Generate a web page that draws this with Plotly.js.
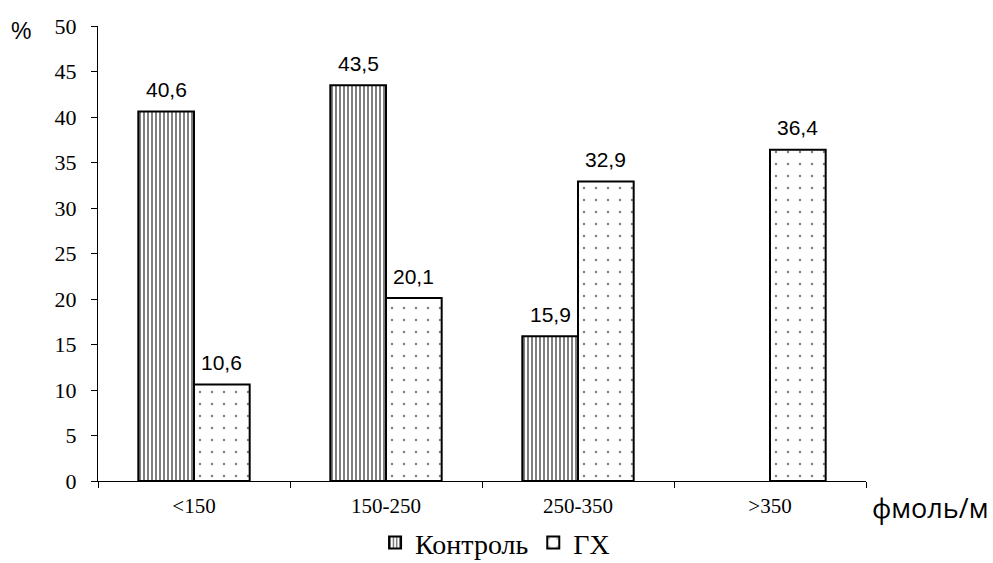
<!DOCTYPE html>
<html>
<head>
<meta charset="utf-8">
<script src="https://cdn.plot.ly/plotly-3.0.1.min.js"></script>
<style>html,body{margin:0;padding:0;background:#fff;}#chart{width:993px;height:563px;}</style>
</head>
<body>
<div id="chart"></div>
<script>
// Distribution of patients by level (fmol/m), percent
const categories = ['<150', '150-250', '250-350', '>350'];
const controlValues = [40.6, 43.5, 15.9, null];
const ghValues = [10.6, 20.1, 32.9, 36.4];
const yTicks = [0, 5, 10, 15, 20, 25, 30, 35, 40, 45, 50];
const seriesNames = ['Контроль', 'ГХ'];

const serif = '"Liberation Serif", "Times New Roman", serif';
const sans = '"Liberation Sans", Arial, sans-serif';
const fmt = v => v.toFixed(1).replace('.', ',');

const BARGAP = 0.42;
// horizontal offset (px) of each bar within its category group
const PLOT_W = 993 - 98 - 127;
const barPx = PLOT_W / categories.length * (1 - BARGAP) / 2;

const traces = [
  {
    type: 'bar', name: seriesNames[0], x: categories, y: controlValues,
    marker: {
      color: '#fff',
      line: {color: '#000', width: 2},
      pattern: {shape: '|', fgcolor: '#000', bgcolor: '#fff', size: 4, solidity: 0.5, fillmode: 'overlay'}
    },
    hoverinfo: 'skip'
  },
  {
    type: 'bar', name: seriesNames[1], x: categories, y: ghValues,
    marker: {
      color: '#fff',
      line: {color: '#000', width: 2},
      pattern: {shape: '.', fgcolor: '#000', bgcolor: '#fff', size: 12, solidity: 0.035, fillmode: 'overlay'}
    },
    hoverinfo: 'skip'
  }
];

// value labels above each bar
const valueLabels = [];
[[controlValues, -1], [ghValues, 1]].forEach(([vals, side]) => {
  vals.forEach((v, i) => {
    if (v === null) return;
    valueLabels.push({
      x: categories[i], y: v, xref: 'x', yref: 'y', text: fmt(v),
      xshift: side * barPx / 2, yshift: 22, yanchor: 'middle', xanchor: 'center',
      showarrow: false, font: {family: sans, size: 21, color: '#000'}
    });
  });
});

const layout = {
  width: 993, height: 563,
  margin: {l: 98, r: 127, t: 26, b: 82, autoexpand: false},
  paper_bgcolor: '#fff', plot_bgcolor: '#fff',
  barmode: 'group', bargap: BARGAP, bargroupgap: 0,
  showlegend: true,
  legend: {
    orientation: 'h', x: 0.517, xanchor: 'center', y: -0.136, yanchor: 'middle',
    font: {family: serif, size: 28, color: '#000'},
    itemwidth: 30, tracegroupgap: 0
  },
  xaxis: {
    type: 'category', range: [-0.5, 3.5],
    tickson: 'boundaries', ticks: 'outside', ticklen: 6, tickcolor: '#000',
    ticklabelstandoff: 6,
    showline: true, linecolor: '#000', linewidth: 1, showgrid: false, zeroline: false,
    tickfont: {family: serif, size: 21, color: '#000'}
  },
  yaxis: {
    range: [0, 50], tickvals: yTicks, ticktext: yTicks.map(String),
    ticks: 'outside', ticklen: 6, tickcolor: '#000',
    ticklabelstandoff: 10,
    showline: true, linecolor: '#000', linewidth: 1, showgrid: false, zeroline: false,
    tickfont: {family: serif, size: 22, color: '#000'}
  },
  annotations: valueLabels.concat([
    {text: '%', xref: 'paper', yref: 'paper', x: -0.1, y: 0.99, xanchor: 'center', yanchor: 'middle',
     showarrow: false, font: {family: sans, size: 23, color: '#000'}},
    {text: 'фмоль/м', xref: 'paper', yref: 'paper', x: 1.005, y: -0.059, xanchor: 'left', yanchor: 'middle',
     showarrow: false, font: {family: '"Open Sans", "Liberation Sans", sans-serif', size: 27, color: '#000'}}
  ])
};

Plotly.newPlot('chart', traces, layout, {displayModeBar: false, staticPlot: true});
</script>
</body>
</html>
